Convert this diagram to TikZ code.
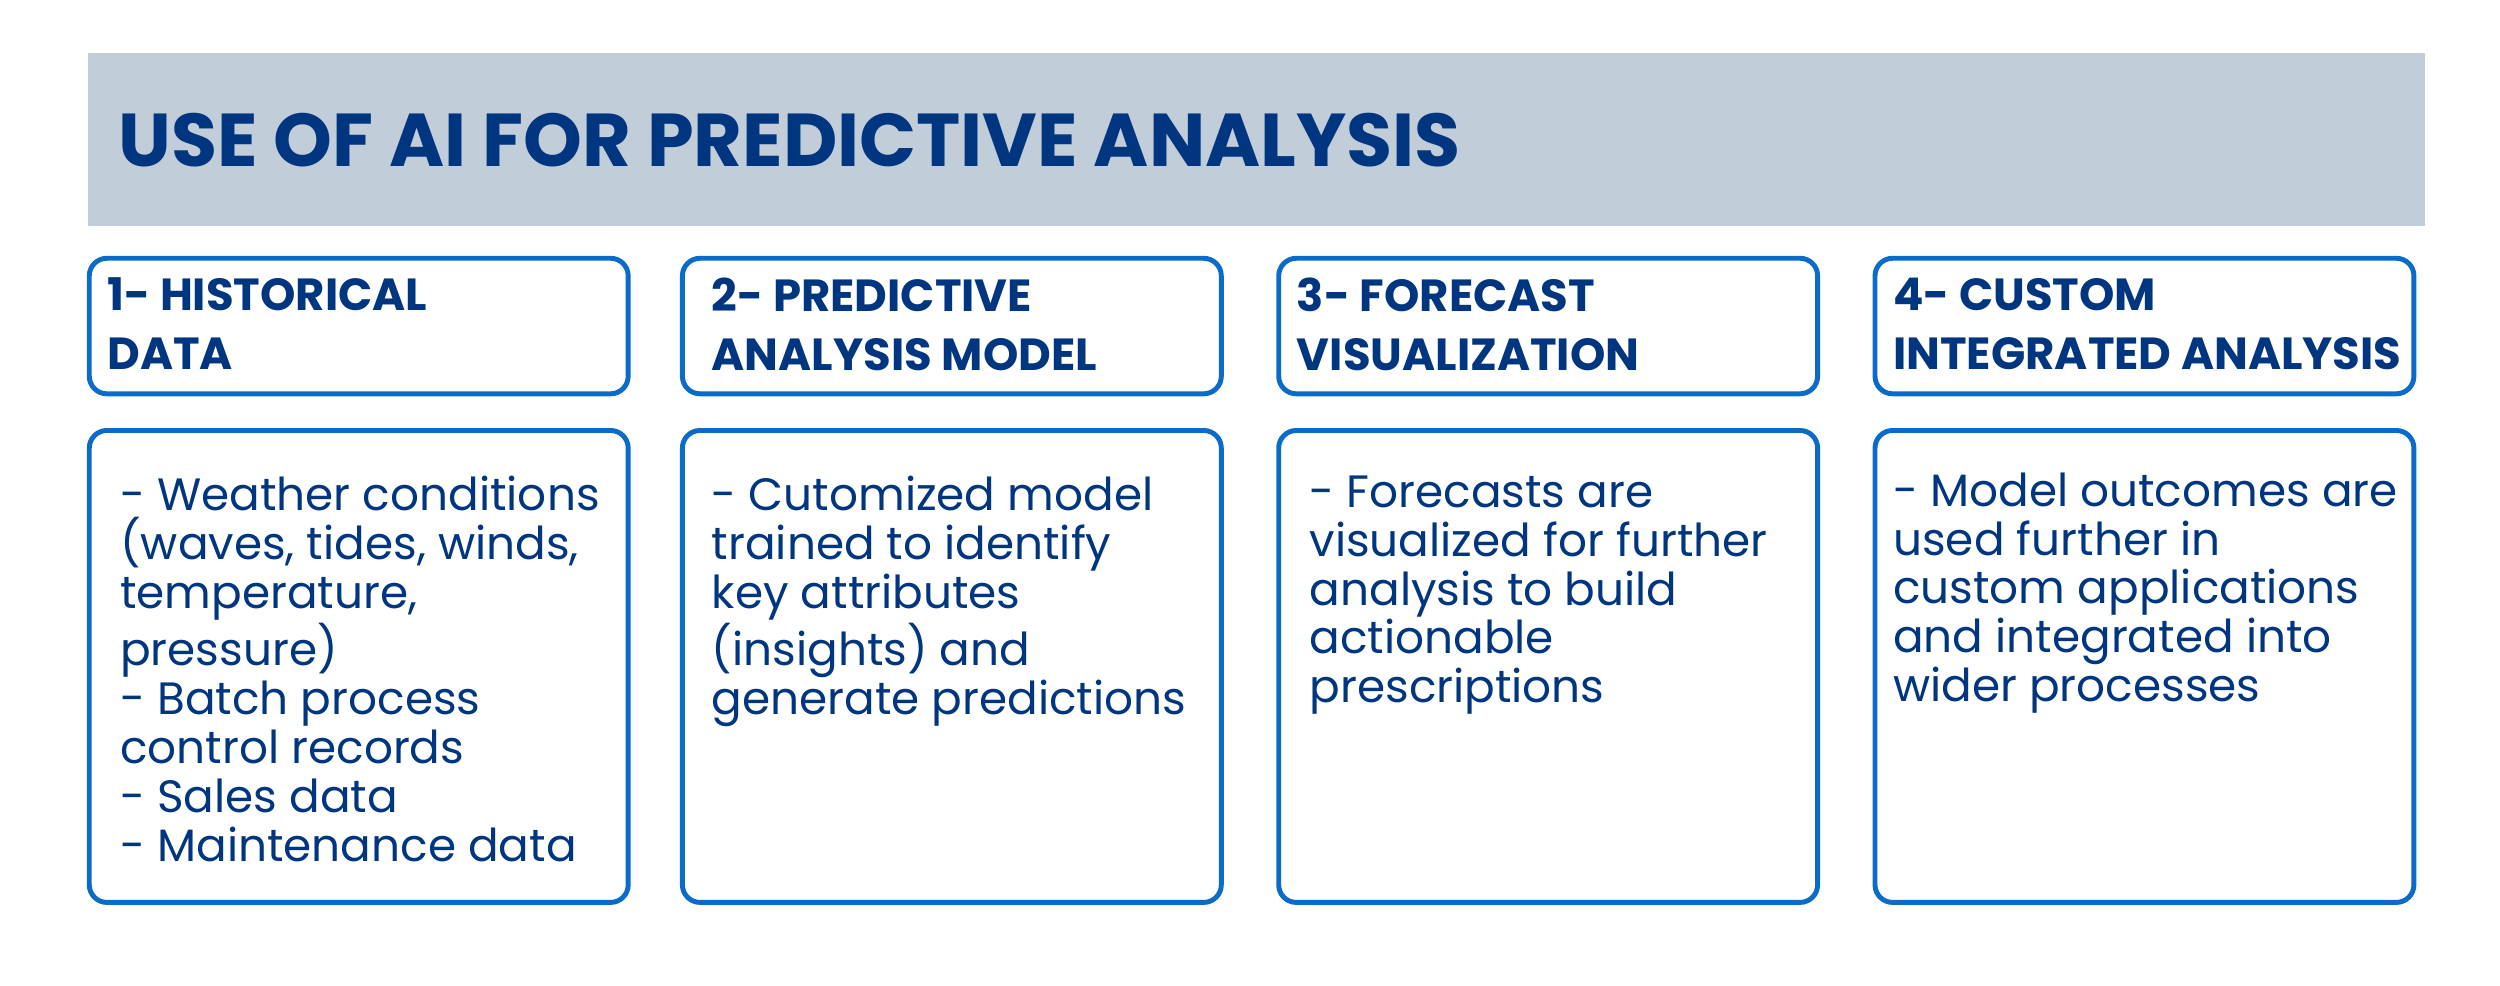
\documentclass[tikz,border=0pt]{standalone}
\usepackage{fontspec}
\setmainfont{Poppins}
\definecolor{navy}{HTML}{003580}
\definecolor{banner}{HTML}{C1CDD8}
\definecolor{frame}{HTML}{0A6BC9}
\tikzset{
  card/.style={draw=frame, line width=1.4pt, rounded corners=5pt, fill=white},
  head/.style={anchor=north west, align=left, text=navy, font=\bfseries\fontsize{12.8}{16.8}\selectfont, inner sep=0pt},
  body/.style={anchor=north west, align=left, text=navy, font=\fontsize{12.9}{13.9}\selectfont, inner sep=0pt},
}
\begin{document}
\begin{tikzpicture}[x=0.015944cm,y=-0.015944cm]
\useasboundingbox (0,0) rectangle (1568,618);
\fill[banner] (55,33) rectangle (1521,142);
\node[anchor=west, text=navy, font=\bfseries\fontsize{21.3}{24}\selectfont, inner sep=0pt] (title) at (74,88) {USE OF AI FOR PREDICTIVE ANALYSIS};
\foreach \x/\n in {56/1,428/2,802/3,1176/4}{
  \draw[card] (\x,162) rectangle ++(338,85);
  \draw[card] (\x,270) rectangle ++(338,296);
}
\node[head] (h1) at (67,174) {1- HISTORICAL\\DATA};
\node[head] (h2) at (446,174) {2- PREDICTIVE\\ANALYSIS MODEL};
\node[head] (h3) at (813,174) {3- FORECAST\\VISUALIZATION};
\node[head] (h4) at (1187,174) {4- CUSTOM\\INTEGRATED ANALYSIS};
\node[body] (b1) at (75,298) {- Weather conditions\\(waves, tides, winds,\\temperature,\\pressure)\\- Batch process\\control records\\- Sales data\\- Maintenance data};
\node[body] (b2) at (446,298) {- Cutomized model\\trained to identify\\key attributes\\(insights) and\\generate predictions};
\node[body] (b3) at (821,298) {- Forecasts are\\visualized for further\\analysis to build\\actionable\\prescriptions};
\node[body] (b4) at (1187,296) {- Model outcomes are\\used further in\\custom applications\\and integrated into\\wider processes};
\end{tikzpicture}
\end{document}
